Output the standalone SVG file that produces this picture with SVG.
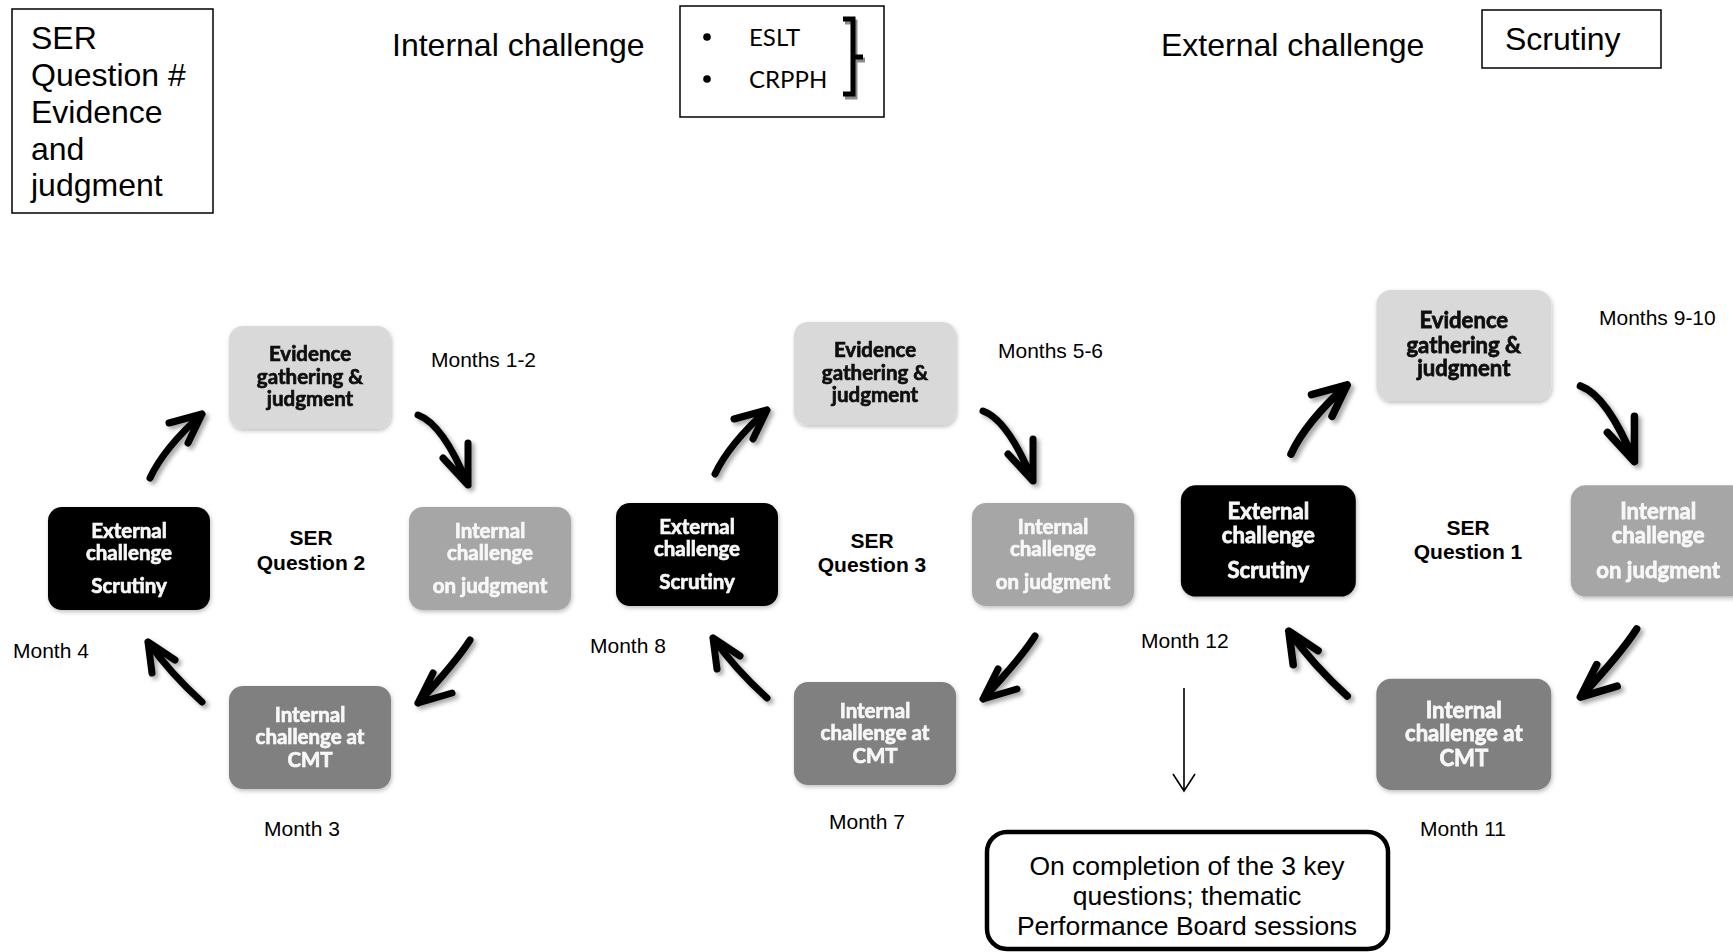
<svg xmlns="http://www.w3.org/2000/svg" width="1733" height="952" viewBox="0 0 1733 952">
<defs>
<filter id="nsh" x="-10%" y="-10%" width="125%" height="130%"><feDropShadow dx="1" dy="2" stdDeviation="2" flood-color="#000" flood-opacity="0.25"/></filter>
<filter id="ash" x="-30%" y="-30%" width="170%" height="170%"><feDropShadow dx="3" dy="3" stdDeviation="2" flood-color="#000" flood-opacity="0.35"/></filter>
<style>
.ar{font-family:"Liberation Sans",Arial,sans-serif;fill:#000}
.big{font-size:32px}
.mon{font-size:21px}
.ser{font-size:21px;font-weight:bold;text-anchor:middle}
.cal{font-family:Lato,Carlito,"Open Sans",sans-serif;font-weight:bold;font-size:20.5px;text-anchor:middle;stroke-width:0.7;paint-order:stroke}
.box{fill:#fff;stroke:#000;stroke-width:1.5}
.n1{fill:#d9d9d9}
.n2{fill:#a6a6a6}
.n3{fill:#808080}
.n4{fill:#000}
.dk{fill:#111;stroke:#111}
.wt{fill:#f7f7f7;stroke:#f7f7f7}
.arw{fill:none;stroke:#000;stroke-width:7;stroke-linecap:round;stroke-linejoin:round}
</style>
</defs>
<rect width="1733" height="952" fill="#fff"/>

<!-- Legend -->
<g id="legend-ser">
<rect class="box" x="12" y="9" width="201" height="204"/>
<text class="ar big" x="31"><tspan x="31" y="49">SER</tspan><tspan x="31" y="86">Question #</tspan><tspan x="31" y="123">Evidence</tspan><tspan x="31" y="160">and</tspan><tspan x="31" y="196">judgment</tspan></text>
</g>
<g id="legend-internal">
<text class="ar big" x="392" y="56">Internal challenge</text>
<rect class="box" x="680" y="6" width="204" height="111"/>
<circle cx="707" cy="37" r="3.8" fill="#000"/>
<circle cx="707" cy="79" r="3.8" fill="#000"/>
<text x="749" y="46" style="font-family:Lato,Carlito,sans-serif;font-size:24px">ESLT</text>
<text x="749" y="88" style="font-family:Lato,Carlito,sans-serif;font-size:24px">CRPPH</text>
<path d="M845,22 H855 V97 H845 M855,60 H865" fill="none" stroke="#8c8c8c" stroke-width="5"/>
<path d="M843,19 H853 V94 H843 M853,57 H863" fill="none" stroke="#000" stroke-width="5"/>
</g>
<g id="legend-external">
<text class="ar big" x="1161" y="56">External challenge</text>
<rect class="box" x="1482" y="10" width="179" height="58"/>
<text class="ar big" x="1505" y="50">Scrutiny</text>
</g>

<!-- Cycle Q2 nodes -->
<g id="q2-evidence" filter="url(#nsh)">
<rect class="n1" x="229" y="326" width="162" height="103" rx="14"/>
<text class="cal dk"><tspan x="310" y="361">Evidence</tspan><tspan x="310" y="384">gathering &amp;</tspan><tspan x="310" y="406">judgment</tspan></text>
</g>
<g id="q2-internal" filter="url(#nsh)">
<rect class="n2" x="409" y="507" width="162" height="103" rx="14"/>
<text class="cal wt"><tspan x="490" y="538">Internal</tspan><tspan x="490" y="560">challenge</tspan><tspan x="490" y="593">on judgment</tspan></text>
</g>
<g id="q2-cmt" filter="url(#nsh)">
<rect class="n3" x="229" y="686" width="162" height="103" rx="14"/>
<text class="cal wt"><tspan x="310" y="722">Internal</tspan><tspan x="310" y="744">challenge at</tspan><tspan x="310" y="767">CMT</tspan></text>
</g>
<g id="q2-external" filter="url(#nsh)">
<rect class="n4" x="48" y="507" width="162" height="103" rx="14"/>
<text class="cal wt"><tspan x="129" y="538">External</tspan><tspan x="129" y="560">challenge</tspan><tspan x="129" y="593">Scrutiny</tspan></text>
</g>
<g id="q2-label"><text class="ar ser"><tspan x="311" y="545">SER</tspan><tspan x="311" y="570">Question 2</tspan></text></g>

<!-- Cycle Q3 nodes -->
<g id="q3-evidence" transform="translate(565,-4)" filter="url(#nsh)">
<rect class="n1" x="229" y="326" width="162" height="103" rx="14"/>
<text class="cal dk"><tspan x="310" y="361">Evidence</tspan><tspan x="310" y="384">gathering &amp;</tspan><tspan x="310" y="406">judgment</tspan></text>
</g>
<g id="q3-internal" transform="translate(563,-4)" filter="url(#nsh)">
<rect class="n2" x="409" y="507" width="162" height="103" rx="14"/>
<text class="cal wt"><tspan x="490" y="538">Internal</tspan><tspan x="490" y="560">challenge</tspan><tspan x="490" y="593">on judgment</tspan></text>
</g>
<g id="q3-cmt" transform="translate(565,-4)" filter="url(#nsh)">
<rect class="n3" x="229" y="686" width="162" height="103" rx="14"/>
<text class="cal wt"><tspan x="310" y="722">Internal</tspan><tspan x="310" y="744">challenge at</tspan><tspan x="310" y="767">CMT</tspan></text>
</g>
<g id="q3-external" transform="translate(568,-4)" filter="url(#nsh)">
<rect class="n4" x="48" y="507" width="162" height="103" rx="14"/>
<text class="cal wt"><tspan x="129" y="538">External</tspan><tspan x="129" y="560">challenge</tspan><tspan x="129" y="593">Scrutiny</tspan></text>
</g>
<g id="q3-label"><text class="ar ser"><tspan x="872" y="548">SER</tspan><tspan x="872" y="572">Question 3</tspan></text></g>

<!-- Cycle Q1 nodes -->
<g id="q1-evidence" transform="matrix(1.08,0,0,1.08,1129,-62.2)" filter="url(#nsh)">
<rect class="n1" x="229" y="326" width="162" height="103" rx="14"/>
<text class="cal dk"><tspan x="310" y="361">Evidence</tspan><tspan x="310" y="384">gathering &amp;</tspan><tspan x="310" y="406">judgment</tspan></text>
</g>
<g id="q1-internal" transform="matrix(1.08,0,0,1.08,1129,-62.2)" filter="url(#nsh)">
<rect class="n2" x="409" y="507" width="162" height="103" rx="14"/>
<text class="cal wt"><tspan x="490" y="538">Internal</tspan><tspan x="490" y="560">challenge</tspan><tspan x="490" y="593">on judgment</tspan></text>
</g>
<g id="q1-cmt" transform="matrix(1.08,0,0,1.08,1129,-62.2)" filter="url(#nsh)">
<rect class="n3" x="229" y="686" width="162" height="103" rx="14"/>
<text class="cal wt"><tspan x="310" y="722">Internal</tspan><tspan x="310" y="744">challenge at</tspan><tspan x="310" y="767">CMT</tspan></text>
</g>
<g id="q1-external" transform="matrix(1.08,0,0,1.08,1129,-62.2)" filter="url(#nsh)">
<rect class="n4" x="48" y="507" width="162" height="103" rx="14"/>
<text class="cal wt"><tspan x="129" y="538">External</tspan><tspan x="129" y="560">challenge</tspan><tspan x="129" y="593">Scrutiny</tspan></text>
</g>
<g id="q1-label"><text class="ar ser"><tspan x="1468" y="535">SER</tspan><tspan x="1468" y="559">Question 1</tspan></text></g>

<!-- Month labels -->
<g id="months">
<text class="ar mon" x="431" y="367">Months 1-2</text>
<text class="ar mon" x="13" y="658">Month 4</text>
<text class="ar mon" x="264" y="836">Month 3</text>
<text class="ar mon" x="998" y="358">Months 5-6</text>
<text class="ar mon" x="590" y="653">Month 8</text>
<text class="ar mon" x="829" y="829">Month 7</text>
<text class="ar mon" x="1599" y="325">Months 9-10</text>
<text class="ar mon" x="1141" y="648">Month 12</text>
<text class="ar mon" x="1420" y="836">Month 11</text>
</g>

<!-- Final node -->
<g id="performance-board">
<rect x="987" y="832" width="401" height="117" rx="20" fill="#fff" stroke="#000" stroke-width="4.5"/>
<text class="ar" style="font-size:26.5px" text-anchor="middle"><tspan x="1187" y="875">On completion of the 3 key</tspan><tspan x="1187" y="905">questions; thematic</tspan><tspan x="1187" y="935">Performance Board sessions</tspan></text>
</g>

<!-- Connectors -->
<g id="connectors">
<g id="q2-arrows" filter="url(#ash)">
<path class="arw" d="M150,478 Q164,448 202,414 M169,423 L202,414 L188,443"/>
<path class="arw" d="M418,415 Q443,424 468,485 M468,443 L468,485 L443,458"/>
<path class="arw" d="M470,640 Q456,662 418,703 M433,673 L418,703 L452,693"/>
<path class="arw" d="M202,702 Q171,674 148,642 M152,673 L148,642 L175,660"/>
</g>
<g id="q3-arrows" transform="translate(565,-4)" filter="url(#ash)">
<path class="arw" d="M150,478 Q164,448 202,414 M169,423 L202,414 L188,443"/>
<path class="arw" d="M418,415 Q443,424 468,485 M468,443 L468,485 L443,458"/>
<path class="arw" d="M470,640 Q456,662 418,703 M433,673 L418,703 L452,693"/>
<path class="arw" d="M202,702 Q171,674 148,642 M152,673 L148,642 L175,660"/>
</g>
<g id="q1-arrows" transform="matrix(1.08,0,0,1.08,1129,-62.2)" filter="url(#ash)">
<path class="arw" d="M150,478 Q164,448 202,414 M169,423 L202,414 L188,443"/>
<path class="arw" d="M418,415 Q443,424 468,485 M468,443 L468,485 L443,458"/>
<path class="arw" d="M470,640 Q456,662 418,703 M433,673 L418,703 L452,693"/>
<path class="arw" d="M202,702 Q171,674 148,642 M152,673 L148,642 L175,660"/>
</g>
<path id="to-board" d="M1184,688 V791 M1173,774 L1184,791 L1195,774" fill="none" stroke="#000" stroke-width="1.6"/>
</g>
</svg>
